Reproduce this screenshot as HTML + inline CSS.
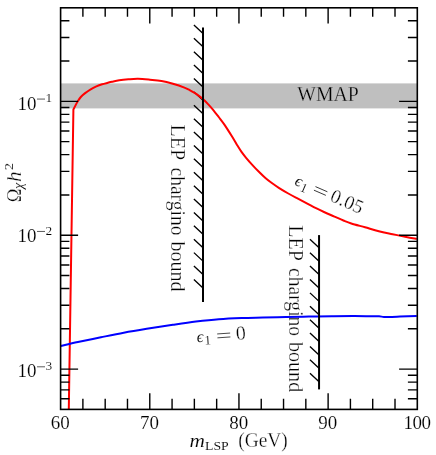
<!DOCTYPE html>
<html><head><meta charset="utf-8"><title>Relic density</title>
<style>html,body{margin:0;padding:0;background:#fff;}svg{display:block;will-change:transform;}svg g.t{filter:opacity(1);}text{font-family:"Liberation Serif",serif;}</style></head>
<body><svg width="436" height="455" viewBox="0 0 436 455">
<rect width="436" height="455" fill="#fff"/>
<rect x="60.6" y="83.4" width="356.70" height="25.00" fill="#bfbfbf"/>
<g font-family="'Liberation Serif', serif" fill="#000" stroke="#fff" stroke-width="0.3" class="t"><text x="60.30" y="429.4" text-anchor="middle" font-size="19" stroke-width="0.15">60</text>
<text x="149.47" y="429.4" text-anchor="middle" font-size="19" stroke-width="0.15">70</text>
<text x="238.65" y="429.4" text-anchor="middle" font-size="19" stroke-width="0.15">80</text>
<text x="327.82" y="429.4" text-anchor="middle" font-size="19" stroke-width="0.15">90</text>
<text x="417.30" y="429.4" text-anchor="middle" font-size="19" stroke-width="0.15" textLength="27.6" lengthAdjust="spacing">100</text>
<text x="17.4" y="109.67" font-size="19" stroke-width="0.15">10</text>
<text x="45.4" y="102.47" font-size="13.4" stroke-width="0.15">1</text>
<text x="17.4" y="242.04" font-size="19" stroke-width="0.15">10</text>
<text x="45.4" y="234.84" font-size="13.4" stroke-width="0.15">2</text>
<text x="17.4" y="377.40" font-size="19" stroke-width="0.15">10</text>
<text x="45.4" y="370.20" font-size="13.4" stroke-width="0.15">3</text>
<text x="189.5" y="446.6" font-size="19" font-style="italic" stroke-width="0.12" textLength="15.4" lengthAdjust="spacingAndGlyphs">m</text>
<text x="205.0" y="450.1" font-size="13.5" stroke-width="0.1" textLength="23.7" lengthAdjust="spacingAndGlyphs">LSP</text>
<text x="238.2" y="447.4" font-size="20" textLength="49.6" lengthAdjust="spacingAndGlyphs">(GeV)</text>
<g transform="translate(20.6 201.9) rotate(-90)"><text x="-0.3" y="0" font-size="20" textLength="13.6" lengthAdjust="spacingAndGlyphs">Ω</text><text x="12.9" y="2.8" font-size="14" font-style="italic" stroke-width="0.1">χ</text><text x="19.9" y="0" font-size="21" font-style="italic">h</text><text x="31.6" y="-7.5" font-size="12.5" textLength="7.4" lengthAdjust="spacingAndGlyphs" stroke-width="0.1">2</text></g>
<text x="297.3" y="100.8" font-size="20" stroke="#bfbfbf" textLength="61.5" lengthAdjust="spacingAndGlyphs">WMAP</text>
<g transform="translate(171.4 124.0) rotate(90)" font-size="20"><text x="0.6" textLength="35.6" lengthAdjust="spacingAndGlyphs">LEP</text><text x="43.5" textLength="68.0" lengthAdjust="spacingAndGlyphs">chargino</text><text x="117.4" textLength="50.2" lengthAdjust="spacingAndGlyphs">bound</text></g>
<g transform="translate(288.9 224.6) rotate(90)" font-size="20"><text x="0.6" textLength="35.6" lengthAdjust="spacingAndGlyphs">LEP</text><text x="43.5" textLength="68.0" lengthAdjust="spacingAndGlyphs">chargino</text><text x="117.4" textLength="50.2" lengthAdjust="spacingAndGlyphs">bound</text></g>
<g transform="translate(196.8 342.2) rotate(-4)"><text x="0.3" y="0" font-size="16.5" font-style="italic" stroke-width="0.1">ϵ</text><text x="7.7" y="3.2" font-size="13" stroke-width="0.1">1</text><path d="M20.9 -6.8 h13.0 M20.9 -2.9 h13.0" stroke="#000" stroke-width="0.7" fill="none"/><text x="39.5" y="0.6" font-size="20">0</text></g>
<g transform="translate(293.6 184.5) rotate(23.5)"><text x="0.3" y="0" font-size="16.5" font-style="italic" stroke-width="0.1">ϵ</text><text x="7.7" y="3.2" font-size="13" stroke-width="0.1">1</text><path d="M20.9 -6.8 h13.0 M20.9 -2.9 h13.0" stroke="#000" stroke-width="0.7" fill="none"/><text x="39.0" y="0.6" font-size="19.4">0.05</text></g>
<path d="M37 99.07 h8 M37 231.44 h8 M37 366.80 h8" stroke="#000" stroke-width="0.65" fill="none"/></g>
<path d="M193.90 24.90 L203.00 33.40 M193.90 38.30 L203.00 46.80 M193.90 51.69 L203.00 60.19 M193.90 65.09 L203.00 73.59 M193.90 78.48 L203.00 86.98 M193.90 91.88 L203.00 100.38 M193.90 105.27 L203.00 113.77 M193.90 118.66 L203.00 127.16 M193.90 132.06 L203.00 140.56 M193.90 145.45 L203.00 153.95 M193.90 158.85 L203.00 167.35 M193.90 172.25 L203.00 180.75 M193.90 185.64 L203.00 194.14 M193.90 199.03 L203.00 207.53 M193.90 212.43 L203.00 220.93 M193.90 225.82 L203.00 234.32 M193.90 239.22 L203.00 247.72 M193.90 252.62 L203.00 261.12 M193.90 266.01 L203.00 274.51 M193.90 279.40 L203.00 287.90" stroke="#000" stroke-width="1.35" fill="none"/>
<path d="M309.95 239.30 L319.05 247.80 M309.95 252.70 L319.05 261.20 M309.95 266.09 L319.05 274.59 M309.95 279.49 L319.05 287.99 M309.95 292.88 L319.05 301.38 M309.95 306.27 L319.05 314.77 M309.95 319.67 L319.05 328.17 M309.95 333.06 L319.05 341.56 M309.95 346.46 L319.05 354.96 M309.95 359.86 L319.05 368.36 M309.95 373.25 L319.05 381.75" stroke="#000" stroke-width="1.35" fill="none"/>
<path d="M68.80 409.40 L73.40 109.50 L75.50 105.40 C75.88 104.70 76.92 102.60 77.80 101.20 C78.68 99.80 79.63 98.30 80.80 97.00 C81.97 95.70 83.15 94.68 84.80 93.40 C86.45 92.12 88.77 90.47 90.70 89.30 C92.63 88.13 94.50 87.23 96.40 86.40 C98.30 85.57 100.18 84.90 102.10 84.30 C104.02 83.70 106.25 83.22 107.90 82.80 C109.55 82.38 110.12 82.22 112.00 81.80 C113.88 81.38 116.47 80.72 119.20 80.30 C121.93 79.88 125.27 79.55 128.40 79.30 C131.53 79.05 134.40 78.73 138.00 78.80 C141.60 78.87 146.08 79.33 150.00 79.70 C153.92 80.07 157.68 80.32 161.50 81.00 C165.32 81.68 169.08 82.70 172.90 83.80 C176.72 84.90 181.55 86.52 184.40 87.60 C187.25 88.68 187.92 89.18 190.00 90.30 C192.08 91.42 194.70 92.80 196.90 94.30 C199.10 95.80 201.30 97.62 203.20 99.30 C205.10 100.98 206.68 102.68 208.30 104.40 C209.92 106.12 211.17 107.50 212.90 109.60 C214.63 111.70 216.78 114.50 218.70 117.00 C220.62 119.50 222.20 121.38 224.40 124.60 C226.60 127.82 229.80 132.92 231.90 136.30 C234.00 139.68 235.40 142.30 237.00 144.90 C238.60 147.50 239.98 149.75 241.50 151.90 C243.02 154.05 244.27 155.60 246.10 157.80 C247.93 160.00 250.37 162.77 252.50 165.10 C254.63 167.43 256.75 169.65 258.90 171.80 C261.05 173.95 263.30 176.17 265.40 178.00 C267.50 179.83 269.20 181.12 271.50 182.80 C273.80 184.48 276.40 186.32 279.20 188.10 C282.00 189.88 285.33 191.82 288.30 193.50 C291.27 195.18 293.83 196.52 297.00 198.20 C300.17 199.88 304.13 201.93 307.30 203.60 C310.47 205.27 313.22 206.80 316.00 208.20 C318.78 209.60 320.92 210.60 324.00 212.00 C327.08 213.40 331.27 215.18 334.50 216.60 C337.73 218.02 340.60 219.35 343.40 220.50 C346.20 221.65 347.70 222.37 351.30 223.50 C354.90 224.63 360.42 226.02 365.00 227.30 C369.58 228.58 374.20 230.05 378.80 231.20 C383.40 232.35 388.02 233.23 392.60 234.20 C397.18 235.17 402.27 236.22 406.30 237.00 C410.33 237.78 415.05 238.58 416.80 238.90" stroke="#ff0000" stroke-width="2" fill="none" stroke-linejoin="round"/>
<path d="M60.70 346.00 C63.57 345.35 71.20 343.55 77.90 342.10 C84.60 340.65 93.25 338.87 100.90 337.30 C108.55 335.73 116.17 334.12 123.80 332.70 C131.43 331.28 138.52 330.12 146.70 328.80 C154.88 327.48 164.70 326.00 172.90 324.80 C181.10 323.60 188.25 322.53 195.90 321.60 C203.55 320.67 211.17 319.80 218.80 319.20 C226.43 318.60 234.35 318.28 241.70 318.00 C249.05 317.72 255.53 317.67 262.90 317.50 C270.27 317.33 278.25 317.15 285.90 317.00 C293.55 316.85 301.17 316.72 308.80 316.60 C316.43 316.48 324.35 316.38 331.70 316.30 C339.05 316.22 346.52 316.12 352.90 316.10 C359.28 316.08 365.65 316.17 370.00 316.20 C374.35 316.23 376.67 316.18 379.00 316.30 C381.33 316.42 381.83 316.80 384.00 316.90 C386.17 317.00 389.33 316.95 392.00 316.90 C394.67 316.85 395.87 316.77 400.00 316.60 C404.13 316.43 414.00 316.02 416.80 315.90" stroke="#0000ff" stroke-width="2" fill="none" stroke-linejoin="round"/>
<path d="M203.0 27.4 V302.1" stroke="#000" stroke-width="2" fill="none"/>
<path d="M319.05 235.1 V389.4" stroke="#000" stroke-width="2" fill="none"/>
<path d="M82.89 409.4 v-10.6 M82.89 7.8 v9.0 M105.19 409.4 v-10.6 M105.19 7.8 v9.0 M127.48 409.4 v-10.6 M127.48 7.8 v9.0 M149.78 409.4 v-16.2 M149.78 7.8 v15.8 M172.07 409.4 v-10.6 M172.07 7.8 v9.0 M194.36 409.4 v-10.6 M194.36 7.8 v9.0 M216.66 409.4 v-10.6 M216.66 7.8 v9.0 M238.95 409.4 v-16.2 M238.95 7.8 v15.8 M261.24 409.4 v-10.6 M261.24 7.8 v9.0 M283.54 409.4 v-10.6 M283.54 7.8 v9.0 M305.83 409.4 v-10.6 M305.83 7.8 v9.0 M328.12 409.4 v-16.2 M328.12 7.8 v15.8 M350.42 409.4 v-10.6 M350.42 7.8 v9.0 M372.71 409.4 v-10.6 M372.71 7.8 v9.0 M395.01 409.4 v-10.6 M395.01 7.8 v9.0 M60.6 398.80 h8.8 M417.3 398.80 h-9.4 M60.6 389.84 h8.8 M417.3 389.84 h-9.4 M60.6 382.08 h8.8 M417.3 382.08 h-9.4 M60.6 375.23 h8.8 M417.3 375.23 h-9.4 M60.6 369.10 h17.5 M417.3 369.10 h-18.2 M60.6 328.80 h8.8 M417.3 328.80 h-9.4 M60.6 305.23 h8.8 M417.3 305.23 h-9.4 M60.6 288.51 h8.8 M417.3 288.51 h-9.4 M60.6 275.53 h8.8 M417.3 275.53 h-9.4 M60.6 264.93 h8.8 M417.3 264.93 h-9.4 M60.6 255.97 h8.8 M417.3 255.97 h-9.4 M60.6 248.21 h8.8 M417.3 248.21 h-9.4 M60.6 241.36 h8.8 M417.3 241.36 h-9.4 M60.6 235.24 h17.5 M417.3 235.24 h-18.2 M60.6 194.94 h8.8 M417.3 194.94 h-9.4 M60.6 171.36 h8.8 M417.3 171.36 h-9.4 M60.6 154.64 h8.8 M417.3 154.64 h-9.4 M60.6 141.67 h8.8 M417.3 141.67 h-9.4 M60.6 131.07 h8.8 M417.3 131.07 h-9.4 M60.6 122.10 h8.8 M417.3 122.10 h-9.4 M60.6 114.34 h8.8 M417.3 114.34 h-9.4 M60.6 107.49 h8.8 M417.3 107.49 h-9.4 M60.6 101.37 h17.5 M417.3 101.37 h-18.2 M60.6 61.07 h8.8 M417.3 61.07 h-9.4 M60.6 37.50 h8.8 M417.3 37.50 h-9.4 M60.6 20.77 h8.8 M417.3 20.77 h-9.4" stroke="#000" stroke-width="1.4" fill="none"/>
<rect x="60.6" y="7.8" width="356.70" height="401.60" fill="none" stroke="#000" stroke-width="1.6"/>
</svg></body></html>
